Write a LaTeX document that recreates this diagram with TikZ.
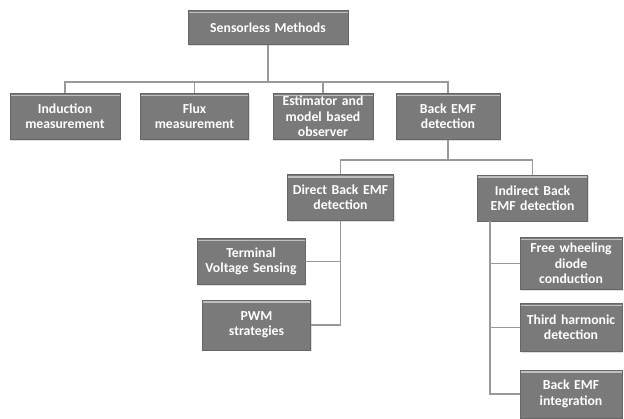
\documentclass[tikz,border=0pt]{standalone}
\usepackage{fontspec}
\setmainfont{Carlito}
\usetikzlibrary{shadows}

\begin{document}
\begin{tikzpicture}[x = 0.75pt, y = -0.75pt]
  % styles
  \tikzstyle{box} = [fill = black!52, draw = black!60, line width = 0.6pt,
    text = white, font = \bfseries\fontsize{10.3}{11.5}\selectfont, align = center,
    inner sep = 1pt,
    drop shadow = {opacity = 0.25, shadow xshift = 1pt, shadow yshift = -1pt},
    path picture = {\draw[white!75!black, line width = 1.2pt]
      ([yshift = -1.6pt]path picture bounding box.north west) --
      ([yshift = -1.6pt]path picture bounding box.north east);}]
  \tikzstyle{link} = [draw = black!40, line width = 0.8pt]

  \useasboundingbox (0, 0) rectangle (624, 418);

  % root
  \node[box, text width = 118pt, minimum height = 26pt] (root) at (268, 27.5) {Sensorless Methods};

  % first level
  \node[box, text width = 80.5pt, minimum height = 35pt] (induct) at (65, 116.5) {Induction\\measurement};
  \node[box, text width = 78.5pt, minimum height = 35pt] (flux) at (194.5, 116.5) {Flux\\measurement};
  \node[box, text width = 73pt, minimum height = 35pt] (estim) at (323, 116.5) {Estimator and\\model based\\observer};
  \node[box, text width = 76pt, minimum height = 35pt] (bemf) at (448, 116.5) {Back EMF\\detection};

  % second level
  \node[box, text width = 77pt, minimum height = 34pt] (direct) at (340.5, 197.5) {Direct Back EMF\\detection};
  \node[box, text width = 80pt, minimum height = 34.5pt] (indirect) at (532.5, 198) {Indirect Back\\EMF detection};

  % direct methods
  \node[box, text width = 79pt, minimum height = 35pt] (terminal) at (251, 261.5) {Terminal\\Voltage Sensing};
  \node[box, text width = 78.5pt, minimum height = 37.5pt] (pwm) at (256.5, 325) {PWM\\strategies};

  % indirect methods
  \node[box, text width = 74.5pt, minimum height = 39.5pt] (freewheel) at (571, 263.5) {Free wheeling\\diode\\conduction};
  \node[box, text width = 74.5pt, minimum height = 36.5pt] (third) at (571, 327.5) {Third harmonic\\detection};
  \node[box, text width = 74.5pt, minimum height = 36pt] (integ) at (571, 394) {Back EMF\\integration};

  % buses
  \coordinate (bus1) at (268, 82);
  \coordinate (bus2) at (448, 160);
  \coordinate (ibus) at (490, 221);

  % connectors
  \begin{scope}[style = link]
    \draw (root.south) -- (bus1);
    \draw (induct.north) |- (bus1);
    \draw (flux.north) |- (bus1);
    \draw (estim.north) |- (bus1);
    \draw (bemf.north) |- (bus1);

    \draw (bemf.south) -- (bus2);
    \draw (direct.north) |- (bus2);
    \draw (indirect.north) |- (bus2);

    \draw (direct.south) |- (pwm.east);
    \draw (terminal.east) -| (direct.south);

    \draw (ibus) |- (integ.west);
    \draw (freewheel.west) -| (ibus);
    \draw (third.west) -| (ibus);
  \end{scope}
\end{tikzpicture}
\end{document}
